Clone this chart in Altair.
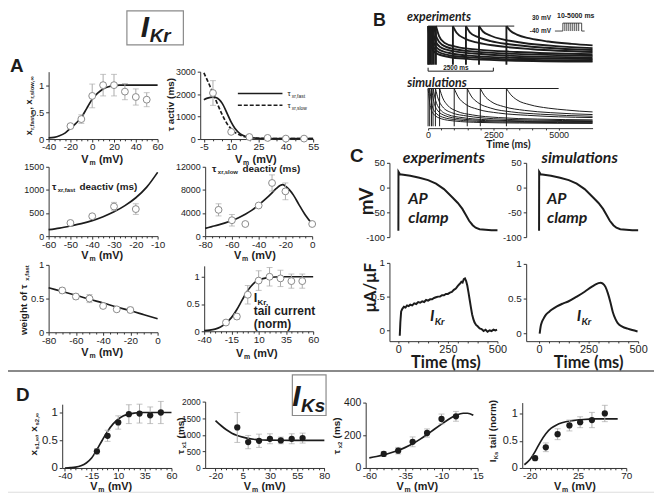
import altair as alt
import pandas as pd

# ------------------------------------------------------------------ data
# A1: steady-state activation
A1_V = [-20, -10, 0, 10, 20, 30, 40, 50]
A1_Y = [0.24, 0.37, 0.80, 1.00, 1.00, 0.88, 0.78, 0.73]
A1_E = [0.03, 0.08, 0.22, 0.20, 0.20, 0.15, 0.15, 0.13]
A1_CV = [-40, -35, -30, -25, -20, -15, -10, -5, 0, 5, 10, 15, 20, 25, 30, 40, 50, 60]
A1_CY = [0.02, 0.03, 0.06, 0.11, 0.20, 0.29, 0.40, 0.57, 0.74, 0.85, 0.93, 0.97, 0.99, 1, 1, 1, 1, 1]
# A2: tau activation
A2_V = [0, 10, 20, 30, 40, 50]
A2_Y = [2050, 320, 90, 50, 20, 20]
A2_E = [550, 60, 20, 10, 10, 10]
A2_CV = [-5, -3, 0, 2, 5, 8, 10, 12, 15, 18, 20, 25, 30, 40, 55]
A2_FAST = [1750, 1820, 1870, 1840, 1600, 1100, 750, 480, 230, 110, 70, 35, 25, 20, 20]
A2_SLOW = [2950, 2600, 2050, 1650, 1100, 650, 450, 300, 170, 90, 60, 35, 25, 20, 20]
# A3: tau fast deactivation
A3_V = [-50, -40, -30, -20]
A3_Y = [285, 430, 640, 585]
A3_E = [30, 40, 90, 115]
A3_CV = [-60, -55, -50, -45, -40, -35, -30, -25, -20, -15, -10]
A3_CY = [140, 175, 220, 270, 335, 420, 525, 660, 830, 1060, 1380]
# A4: tau slow deactivation
A4_V = [-70, -60, -50, -40, -30, -20, 0]
A4_Y = [4550, 2750, 2100, 5300, 9200, 7750, 2100]
A4_E = [1050, 1000, 150, 350, 1400, 1450, 250]
A4_CV = [-80, -75, -70, -65, -60, -55, -50, -45, -40, -35, -30, -27, -24, -22, -20, -17, -14, -10, -5, 0]
A4_CY = [1350, 1650, 1950, 2300, 2700, 3200, 3800, 4500, 5400, 6400, 7500, 8200, 8750, 8900, 8650, 8000, 7100, 5500, 3600, 2100]
# A5: weight of tau fast
A5_V = [-70, -60, -50, -40, -30, -20]
A5_Y = [0.62, 0.53, 0.50, 0.39, 0.34, 0.33]
A5_E = [0.04, 0.04, 0.06, 0.03, 0.03, 0.04]
A5_CV = [-80, -70, -60, -50, -40, -30, -20, -10, 0]
A5_CY = [0.66, 0.605, 0.55, 0.49, 0.435, 0.375, 0.32, 0.26, 0.20]
# A6: IKr tail current
A6_V = [-20, -10, 0, 10, 20, 30, 40, 50]
A6_Y = [0.16, 0.27, 0.67, 0.93, 1.00, 0.97, 0.92, 0.92]
A6_E = [0.02, 0.05, 0.17, 0.18, 0.17, 0.15, 0.13, 0.13]
A6_CV = [-40, -35, -30, -25, -20, -15, -10, -5, 0, 5, 10, 15, 20, 30, 40, 50, 60]
A6_CY = [0.01, 0.02, 0.04, 0.08, 0.15, 0.25, 0.40, 0.58, 0.75, 0.87, 0.94, 0.97, 0.99, 1, 1, 1, 1]

# B: envelope-of-tails protocol traces (normalised current)
EXP_STARTS = [0, 40, 90, 150, 220, 300, 950, 1450, 1950, 3000]
EXP_T = [
    [0, 100, 300, 800, 1500, 3000, 6300],
    [40, 150, 350, 850, 1600, 3100, 6300],
    [90, 200, 400, 900, 1700, 3200, 6300],
    [150, 260, 460, 960, 1750, 3250, 6300],
    [220, 330, 530, 1030, 1800, 3300, 6300],
    [300, 420, 620, 1100, 1900, 3400, 6300],
    [950, 1100, 1400, 1900, 2600, 4000, 6300],
    [1450, 1600, 1900, 2400, 3100, 4500, 6300],
    [1950, 2100, 2400, 2900, 3600, 4900, 6300],
    [3000, 3150, 3400, 3900, 4600, 5500, 6300],
]
EXP_Y = [
    [1, 0.50, 0.30, 0.20, 0.15, 0.11, 0.08],
    [1, 0.55, 0.35, 0.24, 0.19, 0.14, 0.11],
    [1, 0.60, 0.40, 0.29, 0.23, 0.18, 0.15],
    [1, 0.65, 0.46, 0.35, 0.29, 0.23, 0.19],
    [1, 0.70, 0.52, 0.40, 0.34, 0.28, 0.23],
    [1, 0.74, 0.57, 0.46, 0.39, 0.33, 0.27],
    [1, 0.82, 0.68, 0.57, 0.49, 0.40, 0.33],
    [1, 0.84, 0.72, 0.61, 0.53, 0.44, 0.38],
    [1, 0.86, 0.75, 0.65, 0.57, 0.48, 0.43],
    [1, 0.88, 0.78, 0.68, 0.60, 0.54, 0.50],
]
EXP_TOP = [0, 3300]
SIM_STARTS = [0, 60, 130, 190, 280, 440, 1000, 1500, 2000, 3000]
SIM_T = [
    [0, 80, 200, 500, 1000, 2000, 3500, 6300],
    [60, 140, 260, 560, 1100, 2100, 3600, 6300],
    [130, 220, 350, 650, 1200, 2200, 3700, 6300],
    [190, 290, 430, 750, 1300, 2300, 3800, 6300],
    [280, 390, 550, 900, 1500, 2500, 4000, 6300],
    [440, 560, 740, 1100, 1700, 2700, 4200, 6300],
    [1000, 1150, 1400, 1900, 2700, 3800, 5000, 6300],
    [1500, 1650, 1900, 2400, 3200, 4300, 5300, 6300],
    [2000, 2150, 2400, 2900, 3700, 4700, 5500, 6300],
    [3000, 3150, 3400, 3900, 4600, 5300, 5800, 6300],
]
SIM_Y = [
    [1, 0.55, 0.33, 0.20, 0.14, 0.10, 0.085, 0.075],
    [1, 0.60, 0.38, 0.24, 0.17, 0.125, 0.105, 0.095],
    [1, 0.65, 0.43, 0.28, 0.20, 0.15, 0.125, 0.11],
    [1, 0.68, 0.47, 0.31, 0.23, 0.17, 0.14, 0.125],
    [1, 0.72, 0.52, 0.36, 0.27, 0.20, 0.165, 0.145],
    [1, 0.75, 0.56, 0.40, 0.30, 0.23, 0.19, 0.17],
    [1, 0.78, 0.60, 0.45, 0.35, 0.29, 0.25, 0.23],
    [1, 0.80, 0.63, 0.48, 0.38, 0.32, 0.285, 0.265],
    [1, 0.82, 0.66, 0.52, 0.42, 0.36, 0.33, 0.31],
    [1, 0.85, 0.70, 0.57, 0.48, 0.43, 0.40, 0.38],
]
SIM_TOP = [0, 5000]
BAR_T = [0, 2500]
PROTO_T = [0, 8, 8, 27, 27, 30]
PROTO_V = [-40, -40, 30, 30, -40, -40]
PROTO_ENDS = [10, 12, 14, 16, 18, 20, 22, 24]

# C: AP clamp and IKr
AP_T = [0, 0.5, 8, 25, 60, 106, 150, 190, 230, 273, 300, 323, 340, 357, 375, 390, 410, 440, 470, 500]
AP_V = [-87, 32, 27, 26, 24, 20, 15, 8, -3, -20, -31, -43, -55, -67, -76, -81, -84, -85, -86, -86]
IKR_EXP_T = [7, 10, 14, 20, 28, 36, 44, 52, 60, 70, 80, 90, 100, 110, 120, 130, 140, 150, 160, 170,
             180, 190, 200, 210, 220, 230, 240, 250, 260, 270, 280, 290, 300, 310, 318, 324, 330, 336,
             342, 348, 354, 360, 366, 372, 378, 384, 392, 400, 410, 420, 430, 440, 450, 460, 470, 480, 490, 498]
IKR_EXP_Y = [-0.08, 0.12, 0.28, 0.32, 0.35, 0.34, 0.37, 0.36, 0.38, 0.37, 0.40, 0.39, 0.42, 0.41, 0.43,
             0.42, 0.45, 0.44, 0.46, 0.46, 0.48, 0.49, 0.50, 0.50, 0.52, 0.52, 0.54, 0.54, 0.56, 0.57,
             0.60, 0.62, 0.66, 0.69, 0.72, 0.71, 0.76, 0.77, 0.73, 0.66, 0.56, 0.45, 0.34, 0.24, 0.17,
             0.12, 0.08, 0.06, 0.03, 0.02, -0.01, 0.01, -0.02, 0.0, -0.01, 0.01, 0.0, 0.01]
IKR_SIM_T = [3, 8, 15, 22, 35, 50, 63, 90, 120, 147, 190, 230, 265, 297, 310, 320, 335, 347, 360,
             372, 385, 397, 420, 447, 470, 497]
IKR_SIM_Y = [0, 0.10, 0.17, 0.21, 0.27, 0.31, 0.34, 0.39, 0.43, 0.46, 0.53, 0.60, 0.67, 0.72, 0.73,
             0.72, 0.67, 0.58, 0.45, 0.31, 0.21, 0.15, 0.10, 0.07, 0.05, 0.03]

# D: IKs
D1_V = [-10, 0, 10, 20, 30, 40, 50]
D1_Y = [0.30, 0.58, 0.82, 0.97, 0.98, 0.95, 1.00]
D1_E = [0.05, 0.10, 0.12, 0.17, 0.17, 0.15, 0.20]
D1_CV = [-40, -35, -30, -25, -20, -15, -10, -5, 0, 5, 10, 15, 20, 25, 30, 40, 50, 60]
D1_CY = [0.0, 0.005, 0.015, 0.04, 0.09, 0.18, 0.33, 0.50, 0.66, 0.79, 0.88, 0.94, 0.97, 0.99, 1, 1, 1, 1]
D2_V = [0, 10, 20, 30, 40, 50, 60]
D2_Y = [1220, 780, 820, 880, 830, 880, 900]
D2_E = [450, 200, 200, 150, 100, 150, 150]
D2_CV = [-20, -15, -10, -5, 0, 5, 10, 15, 20, 30, 40, 50, 60, 70, 80]
D2_CY = [1430, 1280, 1150, 1050, 980, 930, 890, 865, 850, 840, 835, 832, 830, 830, 830]
D3_V = [-50, -40, -30, -20, -10, 0]
D3_Y = [86, 106, 160, 214, 300, 316]
D3_E = [15, 20, 30, 25, 30, 30]
D3_CV = [-60, -55, -50, -45, -40, -35, -30, -25, -20, -15, -10, -5, 0, 5, 8, 12]
D3_CY = [62, 70, 80, 93, 108, 126, 148, 175, 205, 237, 268, 298, 322, 335, 335, 322]
D4_V = [-15, -5, 6, 17, 27, 38, 50]
D4_Y = [0.18, 0.38, 0.62, 0.78, 0.84, 0.88, 1.00]
D4_E = [0.04, 0.08, 0.10, 0.10, 0.10, 0.14, 0.15]
D4_CV = [-25, -20, -15, -10, -5, 0, 5, 10, 20, 30, 40, 50, 62]
D4_CY = [0.06, 0.15, 0.30, 0.48, 0.63, 0.73, 0.79, 0.83, 0.87, 0.89, 0.90, 0.90, 0.90]

# ------------------------------------------------------------------ style / helpers
FONT = "Liberation Sans"
CAL = "Lato"
INK = "#1c1c1c"
EB = "#ababab"
PT = "#8a8a8a"
W, H = 660, 494
ONE = pd.DataFrame({"k": [0]})


def tw(s, size, bold=True):
    w = 0.0
    for ch in s:
        if ch in "il.,:;|!'I":
            w += 0.28
        elif ch == " ":
            w += 0.28
        elif ch in "ft()r-/j":
            w += 0.34
        elif ch in "mwMW":
            w += 0.86
        elif ch.isupper():
            w += 0.70
        elif ch.isdigit():
            w += 0.556
        else:
            w += 0.56
    return w * size * (1.06 if bold else 1.0)


def text(x, y, s, size=10, weight="bold", style="normal", font=FONT, align="center",
         angle=0, dx=0, dy=0, baseline="alphabetic"):
    return alt.Chart(ONE).mark_text(
        text=s, font=font, fontSize=size, fontWeight=weight, fontStyle=style, align=align,
        baseline=baseline, angle=angle, dx=dx, dy=dy, color=INK
    ).encode(x=alt.value(x), y=alt.value(y))


def rich(x, y, segs, angle=0, align="center", font=FONT, style="normal"):
    widths = [tw(t, s, b) for t, s, b, d in segs]
    cum = -sum(widths) / 2 if align == "center" else 0
    out = []
    for (t, s, b, d), w in zip(segs, widths):
        lead = len(t) - len(t.lstrip(" "))
        shift = tw(" " * lead, s, b)
        out.append(text(x, y, t.lstrip(" "), size=s, weight="bold" if b else "normal", style=style,
                        font=font, align="left", angle=angle, dx=cum + shift, dy=d))
        cum += w
    return out


def vm(x, y):
    return rich(x, y, [("V", 11, True, 0), ("m", 7, True, 2), (" (mV)", 11, True, 0)])


def axis_common(size):
    return dict(title=None, grid=False, labelExpr="toString(datum.value)", labelFont=FONT,
                labelFontSize=size, labelColor=INK, domainColor="#333", tickColor="#333",
                labelFlush=False, labelOverlap=False, labelBound=False, domainWidth=1)


def panel(xdom, xr, ydom, yr, xt=None, yt=None, xs=10, ys=9.5, xpad=0, xtick=3, minor=None):
    P = {}
    P["xs"] = alt.Scale(domain=xdom, range=xr, nice=False, zero=False)
    P["ys"] = alt.Scale(domain=ydom, range=yr, nice=False, zero=False)
    P["xa"] = (alt.Axis(orient="bottom", offset=yr[0] - H, values=xt, labelPadding=xpad, tickSize=xtick,
                        **axis_common(xs)) if xt else None)
    P["ya"] = (alt.Axis(orient="left", offset=-xr[0], values=yt, labelPadding=2, tickSize=3,
                        **axis_common(ys)) if yt else None)
    P["minor"] = None
    if minor and xt:
        lo, hi = min(xt), max(xt)
        vals = []
        v = lo
        while v <= hi + 1e-9:
            if all(abs(v - m) > 1e-9 for m in xt):
                vals.append(round(v, 6))
            v += minor
        P["minor"] = alt.Axis(orient="bottom", offset=yr[0] - H, values=vals, labels=False, domain=False,
                              tickSize=1.8, tickColor="#333", grid=False, title=None)
        P["minx"] = lo
        P["miny"] = ydom[0]
    return P


def X(P, f="x", ax=False):
    return alt.X(f"{f}:Q", scale=P["xs"], axis=P["xa"] if ax else None)


def Y(P, f="y"):
    return alt.Y(f"{f}:Q", scale=P["ys"], axis=P["ya"])


def curve(P, xv, yv, width=1.7, dash=None, interp="monotone", ax=True):
    df = pd.DataFrame({"x": xv, "y": yv, "i": list(range(len(xv)))})
    kw = dict(color=INK, strokeWidth=width, interpolate=interp)
    if dash:
        kw["strokeDash"] = dash
    return alt.Chart(df).mark_line(**kw).encode(x=X(P, ax=ax), y=Y(P), order="i:Q")


def errpts(P, xv, yv, ev, filled=False, size=48, cap=6):
    df = pd.DataFrame({"x": xv, "y": yv,
                       "lo": [a - b for a, b in zip(yv, ev)],
                       "hi": [a + b for a, b in zip(yv, ev)]})
    base = alt.Chart(df)
    r = base.mark_rule(color=EB, strokeWidth=1).encode(x=X(P), y=Y(P, "lo"), y2="hi:Q")
    c1 = base.mark_tick(orient="horizontal", size=cap, thickness=1, color=EB).encode(x=X(P), y=Y(P, "lo"))
    c2 = base.mark_tick(orient="horizontal", size=cap, thickness=1, color=EB).encode(x=X(P), y=Y(P, "hi"))
    if filled:
        p = base.mark_circle(color=INK, size=size - 8, opacity=1).encode(x=X(P), y=Y(P))
    else:
        p = base.mark_circle(fill="white", stroke=PT, strokeWidth=1, size=size, opacity=1).encode(x=X(P), y=Y(P))
    return [r, c1, c2, p]


def sub(P, *children):
    kids = list(children)
    if P.get("minor") is not None:
        md = pd.DataFrame({"x": [P["minx"]], "y": [P["miny"]]})
        kids.append(alt.Chart(md).mark_point(opacity=0).encode(
            x=alt.X("x:Q", scale=P["xs"], axis=P["minor"]), y=Y(P)))
    return alt.layer(*kids).resolve_axis(x="independent")


layers = []

# ------------------------------------------------------------------ panel A
P = panel([-40, 60], [49, 159], [0, 1.25], [138, 70], [-40, -20, 0, 20, 40, 60], [0, 0.5, 1], minor=5)
layers.append(sub(P, curve(P, A1_CV, A1_CY), *errpts(P, A1_V, A1_Y, A1_E)))

P = panel([-7, 55], [202, 316], [0, 3000], [138, 70], [-5, 10, 25, 40, 55], [0, 1000, 2000, 3000], ys=9, minor=5)
layers.append(sub(P, curve(P, A2_CV, A2_FAST), curve(P, A2_CV, A2_SLOW, dash=[4, 2], ax=False),
                  *errpts(P, A2_V, A2_Y, A2_E)))

P = panel([-60, -10], [49, 159], [0, 1500], [236, 166], [-60, -50, -40, -30, -20, -10], [0, 500, 1000, 1500],
          ys=9, minor=2.5)
layers.append(sub(P, curve(P, A3_CV, A3_CY), *errpts(P, A3_V, A3_Y, A3_E)))

P = panel([-80, 0], [207, 315], [0, 12000], [236, 166], [-80, -60, -40, -20, 0], [0, 4000, 8000, 12000],
          ys=9, minor=5)
layers.append(sub(P, curve(P, A4_CV, A4_CY), *errpts(P, A4_V, A4_Y, A4_E)))

P = panel([-80, 0], [49, 159], [0, 1], [333, 265], [-80, -60, -40, -20, 0], [0, 0.5, 1], minor=5)
layers.append(sub(P, curve(P, A5_CV, A5_CY), *errpts(P, A5_V, A5_Y, A5_E)))

P = panel([-40, 60], [206, 316], [0, 1.2], [332, 266], [-40, -15, 10, 35, 60], [0, 0.5, 1], minor=5)
layers.append(sub(P, curve(P, A6_CV, A6_CY), *errpts(P, A6_V, A6_Y, A6_E)))

# ------------------------------------------------------------------ panel B
def traces(P, T, Yv, starts, top, width, ax=False):
    rows = []
    for k, (tt, yy) in enumerate(zip(T, Yv)):
        for i, (a, b) in enumerate(zip(tt, yy)):
            rows.append({"x": a, "y": b, "tr": k, "i": i})
    df = pd.DataFrame(rows)
    dec = alt.Chart(df).mark_line(color=INK, strokeWidth=width, interpolate="monotone").encode(
        x=X(P, ax=ax), y=Y(P), detail="tr:N", order="i:Q")
    vd = pd.DataFrame({"x": starts, "lo": [0] * len(starts), "hi": [1] * len(starts)})
    ver = alt.Chart(vd).mark_rule(color=INK, strokeWidth=width).encode(x=X(P), y=Y(P, "lo"), y2="hi:Q")
    td = pd.DataFrame({"x": [top[0]], "x2": [top[1]], "y": [1]})
    tp = alt.Chart(td).mark_rule(color=INK, strokeWidth=1).encode(x=X(P), x2="x2:Q", y=Y(P))
    return [dec, ver, tp]


P = panel([0, 6300], [432, 598], [0, 1], [63, 24])
bar = pd.DataFrame({"x": [BAR_T[0]], "x2": [BAR_T[1]]})
ends = pd.DataFrame({"x": BAR_T})
layers.append(sub(
    P,
    *traces(P, EXP_T, EXP_Y, EXP_STARTS, EXP_TOP, 1.9),
    alt.Chart(bar).mark_rule(color=INK, strokeWidth=1).encode(x=X(P), x2="x2:Q", y=alt.value(69.5)),
    alt.Chart(ends).mark_rule(color=INK, strokeWidth=1).encode(x=X(P), y=alt.value(66), y2=alt.value(69.5)),
))

P = panel([0, 6300], [432, 598], [-0.05, 1], [127, 87], [0, 2500, 5000], None, xs=9, xpad=0, xtick=2, minor=500)
layers.append(sub(P, *traces(P, SIM_T, SIM_Y, SIM_STARTS, SIM_TOP, 1.0, ax=True)))

P = panel([0, 30], [560, 590], [-40, 30], [29, 21])
pdf = pd.DataFrame({"x": PROTO_T, "y": PROTO_V, "i": list(range(len(PROTO_T)))})
edf = pd.DataFrame({"x": PROTO_ENDS, "lo": [-40] * len(PROTO_ENDS), "hi": [30] * len(PROTO_ENDS)})
layers.append(sub(
    P,
    alt.Chart(pdf).mark_line(color=INK, strokeWidth=0.8).encode(x=X(P), y=Y(P), order="i:Q"),
    alt.Chart(edf).mark_rule(color=INK, strokeWidth=0.8).encode(x=X(P), y=Y(P, "lo"), y2="hi:Q"),
))

# ------------------------------------------------------------------ panel C
P = panel([-45, 500], [393, 502], [-100, 50], [237, 162], None, [-100, -50, 0, 50], ys=9.5)
layers.append(sub(P, curve(P, AP_T, AP_V, width=2, interp="linear")))
P = panel([-65, 500], [531, 644], [-100, 50], [237, 162], None, [-100, -50, 0, 50], ys=9.5)
layers.append(sub(P, curve(P, AP_T, AP_V, width=2, interp="linear")))
P = panel([-45, 500], [393, 502], [-0.16, 1], [342, 263], [0, 250, 500], [0, 0.5, 1], xs=11, ys=10,
          xpad=0, xtick=2, minor=50)
layers.append(sub(P, curve(P, IKR_EXP_T, IKR_EXP_Y, width=2, interp="linear")))
P = panel([-65, 500], [531, 644], [-0.11, 1], [342, 264], [0, 250, 500], [0, 0.5, 1], xs=11, ys=10,
          xpad=0, xtick=2, minor=50)
layers.append(sub(P, curve(P, IKR_SIM_T, IKR_SIM_Y, width=2)))

# ------------------------------------------------------------------ panel D
P = panel([-42.6, 60], [62.7, 173], [0, 1.15], [470, 405.6], [-40, -15, 10, 35, 60], [0, 0.5, 1], ys=11.5, minor=5)
layers.append(sub(P, curve(P, D1_CV, D1_CY), *errpts(P, D1_V, D1_Y, D1_E, filled=True)))
P = panel([-29.5, 80], [207, 327.3], [0, 2000], [470, 403], [-20, 5, 30, 55, 80], [0, 500, 1000, 1500, 2000],
          ys=8.5, minor=5)
layers.append(sub(P, curve(P, D2_CV, D2_CY), *errpts(P, D2_V, D2_Y, D2_E, filled=True)))
P = panel([-62.5, 15], [369, 482], [0, 400], [470, 404], [-60, -35, -10, 15], [0, 200, 400], ys=10.5, minor=5)
layers.append(sub(P, curve(P, D3_CV, D3_CY), *errpts(P, D3_V, D3_Y, D3_E, filled=True)))
P = panel([-27, 70], [527, 632], [0, 1.2], [470, 404], [-20, 25, 70], [0, 0.5, 1], ys=11, minor=5)
layers.append(sub(P, curve(P, D4_CV, D4_CY), *errpts(P, D4_V, D4_Y, D4_E, filled=True)))

# ------------------------------------------------------------------ annotations
ann = []
ann.append(alt.Chart(ONE).mark_rule(color="#8a8a8a", strokeWidth=2).encode(
    x=alt.value(0), x2=alt.value(662), y=alt.value(372)))
ann.append(alt.Chart(ONE).mark_rect(fillOpacity=0, stroke="#8a8a8a", strokeWidth=1.2).encode(
    x=alt.value(128), x2=alt.value(185), y=alt.value(8.6), y2=alt.value(43)))
ann.append(alt.Chart(ONE).mark_rect(fillOpacity=0, stroke="#8a8a8a", strokeWidth=1.2).encode(
    x=alt.value(295), x2=alt.value(329), y=alt.value(376), y2=alt.value(417)))
ann += rich(157, 35, [("I", 30, True, 0), ("Kr", 19, True, 5)], style="italic")
ann += rich(312, 407, [("I", 30, True, 0), ("Ks", 19, True, 6)], style="italic")
for lt, x, y, s in [("A", 17, 70, 19), ("B", 383, 24, 18), ("C", 360, 161, 19), ("D", 23, 402, 19)]:
    ann.append(text(x, y, lt, size=s))
ann += rich(32, 104, [("x", 9, True, 0), ("r,fast,\u221e", 6, True, 2), (", x", 9, True, 0),
                      ("r,slow,\u221e", 6, True, 2)], angle=270)
ann += rich(176, 101, [("\u03c4 activ (ms)", 10, True, 0)], angle=270)
ann += rich(27, 300, [("weight of \u03c4", 10, True, 0), ("x,fast", 6, True, 2)], angle=270)
for cx, cy in [(104, 162), (259, 162), (104, 259), (258, 259), (104, 357), (260, 358)]:
    ann += vm(cx, cy)
ann += rich(97, 189, [("\u03c4", 10, True, 0), ("xr,fast", 6, True, 2), (" deactiv (ms)", 10, True, 0)])
ann += rich(260, 171, [("\u03c4", 10, True, 0), ("xr,slow", 6, True, 2), (" deactiv (ms)", 10, True, 0)])
ann += rich(256, 302, [("I", 13, True, 0), ("Kr,", 8, True, 3)], align="left")
ann.append(text(256, 316, "tail current", size=12, align="left"))
ann.append(text(256, 329, "(norm)", size=12, align="left"))
ann.append(alt.Chart(ONE).mark_rule(color=INK, strokeWidth=1.5).encode(
    x=alt.value(240), x2=alt.value(285), y=alt.value(92)))
ann.append(alt.Chart(ONE).mark_rule(color=INK, strokeWidth=1.5, strokeDash=[4, 2]).encode(
    x=alt.value(240), x2=alt.value(285), y=alt.value(104)))
ann += rich(290, 95, [("\u03c4", 8, False, 0), ("xr,fast", 5, False, 2)], align="left")
ann += rich(290, 107, [("\u03c4", 8, False, 0), ("xr,slow", 5, False, 2)], align="left")
# B texts
ann.append(text(443, 19, "experiments", size=12.5, style="italic", font=CAL))
ann.append(text(441, 85, "simulations", size=12.5, style="italic", font=CAL))
ann.append(text(460, 68, "2500 ms", size=6.5))
ann.append(text(513, 147, "Time (ms)", size=10.5, font=CAL))
ann.append(text(556, 18, "30 mV", size=6.5, align="right"))
ann.append(text(556, 31, "-40 mV", size=6.5, align="right"))
ann.append(text(581, 16, "10-5000 ms", size=7))
# C texts
ann.append(text(448, 162, "experiments", size=16, style="italic", font=CAL))
ann.append(text(585, 162, "simulations", size=16, style="italic", font=CAL))
ann.append(text(376, 201, "mV", size=19, font=CAL, angle=270))
ann.append(text(379, 288, "\u03bcA/\u03bcF", size=17, font=CAL, angle=270))
for x0 in (412, 552):
    ann.append(text(x0, 204, "AP", size=16, style="italic", font=CAL, align="left"))
    ann.append(text(x0, 223, "clamp", size=16, style="italic", font=CAL, align="left"))
ann += rich(434, 322, [("I", 16, True, 0), ("Kr", 10, True, 4)], align="left", font=CAL, style="italic")
ann += rich(582, 322, [("I", 16, True, 0), ("Kr", 10, True, 4)], align="left", font=CAL, style="italic")
ann.append(text(450, 369, "Time (ms)", size=16.5, font=CAL))
ann.append(text(594, 369, "Time (ms)", size=16.5, font=CAL))
# D titles
ann += rich(37, 436, [("x", 10, True, 0), ("s1,\u221e", 6, True, 2), (", x", 10, True, 0),
                      ("s2,\u221e", 6, True, 2)], angle=270)
ann += rich(186, 437, [("\u03c4", 10, True, 0), ("x1", 6, True, 2), (" (ms)", 10, True, 0)], angle=270)
ann += rich(343, 437, [("\u03c4", 10, True, 0), ("x2", 6, True, 2), (" (ms)", 10, True, 0)], angle=270)
ann += rich(501, 432, [("I", 10, True, 0), ("Ks", 6, True, 2), (" tail (norm)", 10, True, 0)], angle=270)
for cx in (113, 268, 422, 581):
    ann += vm(cx, 492)

chart = alt.layer(*layers, *ann).resolve_scale(x="independent", y="independent").resolve_axis(
    x="independent", y="independent"
).properties(
    width=W, height=H,
    autosize=alt.AutoSizeParams(type="none"),
    padding={"left": -8, "top": -8, "right": 0, "bottom": 0},
).configure_view(stroke=None).configure(background="white")

chart.save("out.html", embed_options={"renderer": "svg", "actions": False})
